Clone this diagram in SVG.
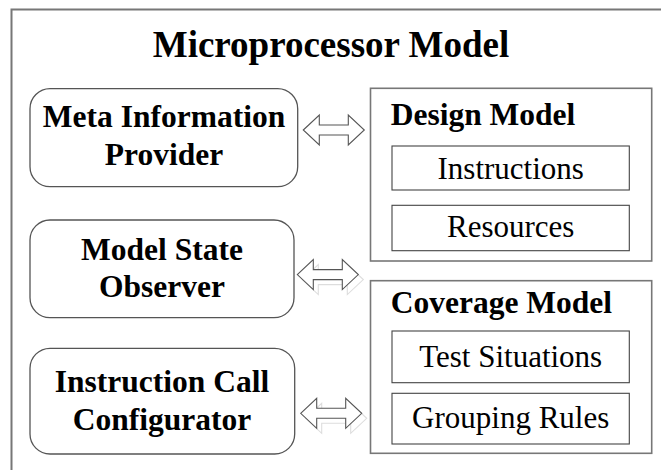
<svg xmlns="http://www.w3.org/2000/svg" width="661" height="470" viewBox="0 0 661 470">
  <style>
    .frame { fill: none; stroke: #777; stroke-width: 2; }
    .node { fill: #fff; stroke: #555; stroke-width: 1.3; }
    .model { fill: #fff; stroke: #777; stroke-width: 1.6; }
    .part { fill: #fff; stroke: #444; stroke-width: 1.1; }
    text { font-family: 'Liberation Serif', 'DejaVu Serif', serif; fill: #000; }
    .title { font-weight: bold; font-size: 37px; }
    .label { font-weight: bold; font-size: 31.5px; }
    .item { font-size: 31px; }
    .arrow { fill: #fff; stroke: #555; stroke-width: 1.1; stroke-linejoin: miter; }
    .arrow-shadow { fill: none; stroke: #ddd; stroke-width: 1.1; }
  </style>
  <defs>
    <!-- hollow double-headed block arrow, 61 wide, centred on y=0 -->
    <path id="dbl" d="M0,0 L16,-15 L16,-5 L45,-5 L45,-15 L61,0 L45,15 L45,5 L16,5 L16,15 Z"/>
  </defs>

  <rect width="661" height="470" fill="#fff"/>

  <!-- outer container: only the top and left edges fall inside the canvas -->
  <path class="frame" d="M11.5,475 L11.5,9.5 L670,9.5"/>
  <text class="title" x="331" y="57" text-anchor="middle">Microprocessor Model</text>

  <g id="meta-information-provider">
    <rect class="node" x="30" y="88.7" width="267.7" height="98" rx="20" ry="20"/>
    <text class="label" x="164" y="127" text-anchor="middle">Meta Information</text>
    <text class="label" x="164" y="165" text-anchor="middle">Provider</text>
  </g>

  <g id="model-state-observer">
    <rect class="node" x="30" y="220" width="264" height="97.7" rx="20" ry="20"/>
    <text class="label" x="162" y="260" text-anchor="middle">Model State</text>
    <text class="label" x="162" y="297" text-anchor="middle">Observer</text>
  </g>

  <g id="instruction-call-configurator">
    <rect class="node" x="30" y="348.3" width="264.7" height="105.7" rx="20" ry="20"/>
    <text class="label" x="162" y="392" text-anchor="middle">Instruction Call</text>
    <text class="label" x="162" y="430" text-anchor="middle">Configurator</text>
  </g>

  <g id="design-model">
    <rect class="model" x="370.5" y="88.3" width="281.2" height="172.7"/>
    <text class="label" x="390.7" y="125">Design Model</text>
    <g id="instructions">
      <rect class="part" x="392" y="146" width="237.3" height="44"/>
      <text class="item" x="510.7" y="179" text-anchor="middle">Instructions</text>
    </g>
    <g id="resources">
      <rect class="part" x="392" y="205.3" width="237.3" height="45.4"/>
      <text class="item" x="510.7" y="237" text-anchor="middle">Resources</text>
    </g>
  </g>

  <g id="coverage-model">
    <rect class="model" x="370.5" y="280.7" width="281.2" height="172.6"/>
    <text class="label" x="390.7" y="312.7">Coverage Model</text>
    <g id="test-situations">
      <rect class="part" x="392" y="331" width="237.3" height="51.7"/>
      <text class="item" x="510.7" y="366.7" text-anchor="middle">Test Situations</text>
    </g>
    <g id="grouping-rules">
      <rect class="part" x="392" y="393.3" width="237.3" height="50.7"/>
      <text class="item" x="510.7" y="428.3" text-anchor="middle">Grouping Rules</text>
    </g>
  </g>

  <g id="connectors">
    <use href="#dbl" class="arrow" transform="translate(303.3,130)"/>
    <use href="#dbl" class="arrow-shadow" transform="translate(302.3,279.6)"/>
    <use href="#dbl" class="arrow" transform="translate(297.3,274.6)"/>
    <use href="#dbl" class="arrow-shadow" transform="translate(305.7,418.3)"/>
    <use href="#dbl" class="arrow" transform="translate(300.7,413.3)"/>
  </g>
</svg>
